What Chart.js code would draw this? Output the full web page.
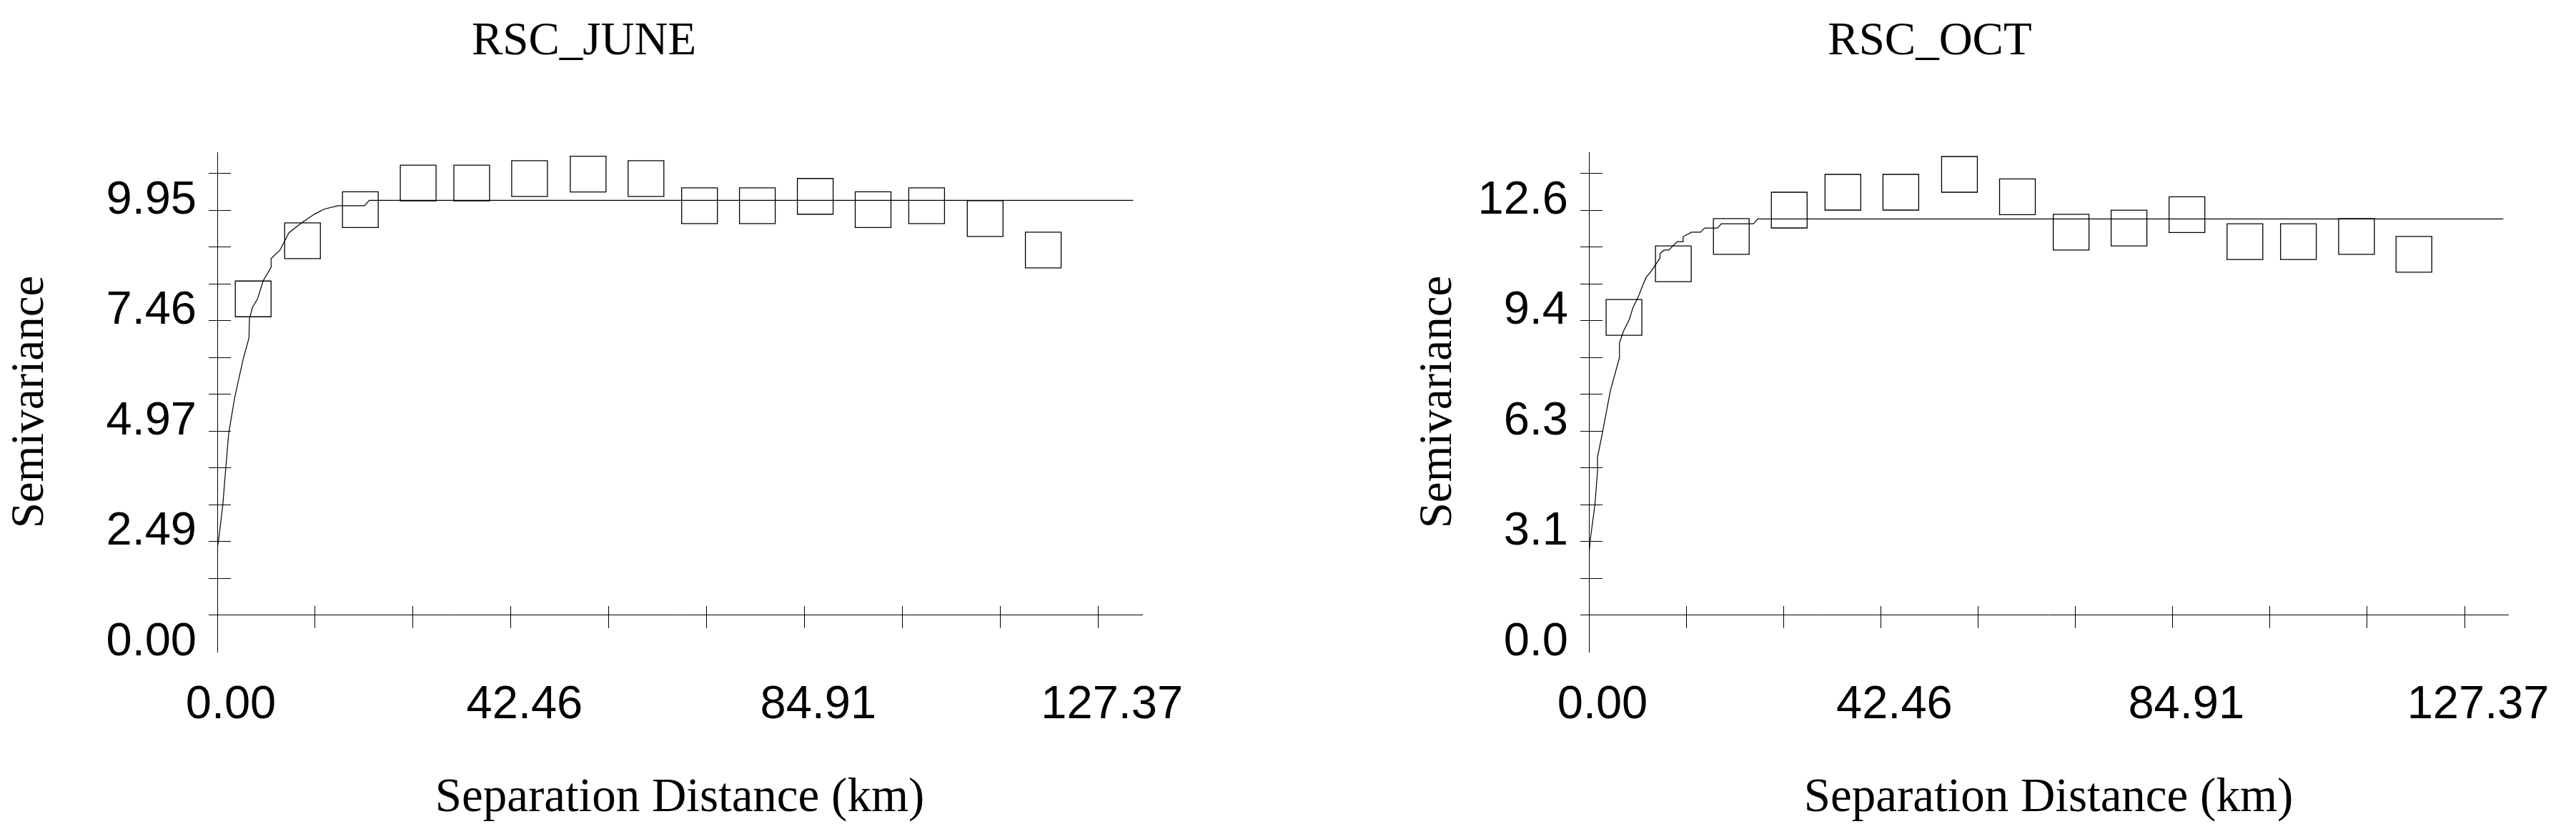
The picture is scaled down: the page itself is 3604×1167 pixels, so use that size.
<!DOCTYPE html>
<html>
<head>
<meta charset="utf-8">
<script src="https://cdn.jsdelivr.net/npm/chart.js@4.4.1/dist/chart.umd.min.js"></script>
<style>
html, body { margin: 0; padding: 0; background: #fff; }
body { width: 3604px; height: 1167px; position: relative; overflow: hidden; }
canvas { position: absolute; top: 0; }
#june-chart { left: 0; }
#oct-chart { left: 1800px; }
</style>
</head>
<body>
<canvas id="june-chart" width="1790" height="1167"></canvas>
<canvas id="oct-chart" width="1800" height="1167"></canvas>
<script>
// tick labels as printed on the plots
const lagTickLabels = ["0.00", "42.46", "84.91", "127.37"];
const juneGammaTickLabels = ["0.00", "2.49", "4.97", "7.46", "9.95"];
const octGammaTickLabels = ["0.0", "3.1", "6.3", "9.4", "12.6"];

// RSC_JUNE: experimental semivariogram (km, semivariance)
const juneLag = [5.19, 12.32, 20.68, 29.04, 36.78, 45.14, 53.61, 61.97, 69.71, 78.07, 86.44, 94.80, 102.54, 111.0, 119.4];
const juneGamma = [7.95, 9.26, 9.96, 10.56, 10.56, 10.66, 10.76, 10.66, 10.05, 10.05, 10.26, 9.96, 10.05, 9.76, 9.05];
// RSC_JUNE: fitted model curve
const juneModelLag = [0, 0.18, 0.80, 1.21, 1.65, 2.51, 3.72, 4.58, 4.65, 5.09, 5.79, 6.64, 7.78, 7.78, 9.06, 10.36, 12.16, 14.05, 15.42, 17.43, 21.28, 21.97, 132.4];
const juneModelGamma = [2.34, 2.50, 3.31, 4.11, 4.92, 5.72, 6.58, 7.07, 7.50, 7.76, 7.94, 8.36, 8.66, 8.86, 9.05, 9.44, 9.66, 9.86, 9.97, 10.05, 10.05, 10.17, 10.17];

// RSC_OCT: experimental semivariogram
const octLag = [5.10, 12.28, 20.71, 29.14, 36.94, 45.37, 53.90, 62.33, 70.14, 78.56, 86.99, 95.42, 103.2, 111.65, 120.0];
const octGamma = [9.54, 11.07, 11.85, 12.60, 13.11, 13.11, 13.62, 12.98, 11.97, 12.09, 12.47, 11.70, 11.70, 11.85, 11.34];
// RSC_OCT: fitted model curve
const octModelLag = [0, 0.18, 0.87, 1.25, 1.25, 2.02, 3.12, 4.41, 4.44, 5.04, 5.90, 6.42, 7.12, 7.80, 8.32, 9.02, 10.34, 10.34, 10.93, 11.62, 12.84, 13.70, 13.70, 14.92, 16.23, 16.83, 18.73, 19.25, 23.93, 24.56, 133.0];
const octModelGamma = [2.76, 3.17, 4.19, 5.14, 5.55, 6.30, 7.45, 8.37, 8.81, 9.15, 9.49, 9.83, 10.10, 10.44, 10.68, 10.85, 11.23, 11.36, 11.46, 11.46, 11.70, 11.70, 11.84, 11.97, 11.97, 12.09, 12.09, 12.21, 12.21, 12.35, 12.35];

const X_MAX = 133.7;
const tickFont = { family: "'Liberation Sans', Arial, sans-serif", size: 65 };
const serifFont = { family: "'Liberation Serif', 'Times New Roman', serif", size: 65, weight: "normal" };
const xTitleFont = { family: "'Liberation Serif', 'Times New Roman', serif", size: 67, weight: "normal" };
const BLACK = "#000";
const NONE = "rgba(0,0,0,0)";

function pairs(xs, ys) {
    return xs.map((x, i) => ({ x, y: ys[i] }));
}

function drawVariogram(id, title, lag, gamma, modelLag, modelGamma, gammaLabels, geom) {
    const yTop = parseFloat(gammaLabels[gammaLabels.length - 1]);
    const yStep = yTop / 12;
    const yMax = yTop * 1.1311;
    const xStep = parseFloat(lagTickLabels[lagTickLabels.length - 1]) / 9;
    const yTicks = Array.from({ length: 14 }, (_, k) => k * yStep);
    const xTicks = Array.from({ length: 10 }, (_, k) => k * xStep);
    const hideFirst = ctx => ctx.index === 0 ? NONE : BLACK;

    new Chart(document.getElementById(id), {
        type: "scatter",
        data: {
            datasets: [
                { data: pairs(modelLag, modelGamma), showLine: true, borderColor: BLACK, borderWidth: 1.2, pointRadius: 0, tension: 0 },
                { data: pairs(lag, gamma), showLine: false, pointStyle: "rect", pointRadius: 35.36, borderColor: BLACK, borderWidth: 1.3, backgroundColor: NONE }
            ]
        },
        options: {
            responsive: false,
            animation: false,
            events: [],
            layout: { padding: { left: geom.padLeft, right: geom.padRight, top: 0, bottom: 255 } },
            plugins: {
                legend: { display: false },
                tooltip: { enabled: false },
                title: { display: true, text: title, color: BLACK, font: serifFont, padding: { top: 20, bottom: 115 } }
            },
            scales: {
                x: {
                    type: "linear", min: 0, max: X_MAX, position: { y: yStep },
                    afterBuildTicks: s => { s.ticks = xTicks.map(v => ({ value: v })); },
                    afterFit: s => { s.paddingLeft = 0; s.paddingRight = 0; s.height = 297; },
                    border: { display: true, color: BLACK, width: 1 },
                    grid: { drawOnChartArea: false, tickLength: 18, tickColor: BLACK, tickWidth: 1 },
                    ticks: { autoSkip: false, maxRotation: 0, minRotation: 0, padding: 70, labelOffset: 19, color: BLACK, font: tickFont,
                        callback: (v, i) => i % 3 === 0 ? lagTickLabels[i / 3] : "" },
                    title: { display: true, text: "Separation Distance (km)", color: BLACK, font: xTitleFont, padding: 0 }
                },
                xIn: {
                    type: "linear", min: 0, max: X_MAX, position: { y: yStep },
                    afterBuildTicks: s => { s.ticks = xTicks.map(v => ({ value: v })); },
                    border: { display: false },
                    grid: { drawOnChartArea: false, tickLength: -13, tickColor: hideFirst, tickWidth: 1 },
                    ticks: { display: false }
                },
                y: {
                    type: "linear", min: 0, max: yMax, position: "left",
                    afterBuildTicks: s => { s.ticks = yTicks.map(v => ({ value: v })); },
                    afterFit: s => { s.width = geom.yWidth; },
                    border: { display: true, color: BLACK, width: 1 },
                    grid: { drawOnChartArea: false, tickLength: 12, tickColor: hideFirst, tickWidth: 1 },
                    ticks: { autoSkip: false, padding: 17, labelOffset: -13, color: BLACK, font: tickFont,
                        callback: (v, i) => i % 3 === 0 ? gammaLabels[i / 3] : "" },
                    title: { display: true, text: "Semivariance", color: BLACK, font: serifFont, padding: { top: geom.yTitlePad, bottom: 0 } }
                },
                yIn: {
                    type: "linear", min: 0, max: yMax, position: { x: 0 },
                    afterBuildTicks: s => { s.ticks = yTicks.map(v => ({ value: v })); },
                    border: { display: false },
                    grid: { drawOnChartArea: false, tickLength: -19, tickColor: hideFirst, tickWidth: 1 },
                    ticks: { display: false }
                }
            }
        }
    });
}

drawVariogram("june-chart", "RSC_JUNE", juneLag, juneGamma, juneModelLag, juneModelGamma, juneGammaTickLabels,
    { padLeft: 36, padRight: 192, yWidth: 268, yTitlePad: -32 });
drawVariogram("oct-chart", "RSC_OCT", octLag, octGamma, octModelLag, octModelGamma, octGammaTickLabels,
    { padLeft: 91, padRight: 91, yWidth: 332, yTitlePad: 83 });
</script>
</body>
</html>
